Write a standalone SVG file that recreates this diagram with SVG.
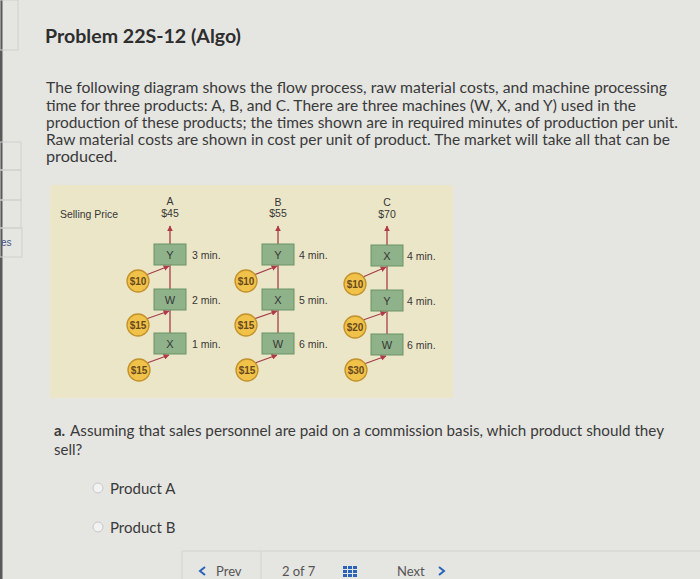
<svg xmlns="http://www.w3.org/2000/svg" width="700" height="579" viewBox="0 0 700 579">
<defs>
<style>
.bg{fill:#e5e5e2}
.body{font-family:"Lato","Liberation Sans",sans-serif;font-size:15px;fill:#3a3a3a}
.title{font-family:"Lato","Liberation Sans",sans-serif;font-size:19px;font-weight:bold;fill:#2e2e2e}
.dg{font-family:"Liberation Sans","DejaVu Sans",sans-serif;fill:#363636}
.lbl{font-size:10.5px;text-anchor:middle}
.tm{font-size:10.5px}
.box{fill:#8fb28a;stroke:#6a9366;stroke-width:1}
.boxt{font-size:11px;text-anchor:middle}
.coin{fill:#f0c24a;stroke:#c2922c;stroke-width:1.3}
.coint{font-size:10px;font-weight:bold;text-anchor:middle;fill:#6a4a1c}
.ln{stroke:#a3404d;stroke-width:1.3;fill:none}
.side{fill:none;stroke:#cfcfcd;stroke-width:1}
.nav{font-family:"Lato","Liberation Sans",sans-serif;font-size:13px;fill:#555}
.blue{fill:none;stroke:#2a63b8;stroke-width:2}
</style>
<marker id="ah" viewBox="0 0 10 10" refX="9" refY="5" markerWidth="6" markerHeight="6" orient="auto" markerUnits="userSpaceOnUse">
<path d="M0,0 L10,5 L0,10 z" fill="#b03848"/>
</marker>
</defs>

<rect class="bg" x="0" y="0" width="700" height="579"/>
<rect x="0" y="0" width="2.5" height="579" fill="#5a5a5a"/>

<!-- sidebar -->
<g id="sidebar">
<rect class="side" x="0" y="0" width="18" height="50"/>
<rect class="side" x="0" y="142" width="21" height="28"/>
<rect class="side" x="0" y="170" width="21" height="30"/>
<rect class="side" x="0" y="200" width="21" height="28"/>
<rect class="side" x="0" y="228" width="22" height="29"/>
<text x="1" y="246" font-family="Liberation Sans,sans-serif" font-size="10" fill="#4a5a85">es</text>
</g>

<!-- header text -->
<text class="title" x="45" y="43" textLength="196" lengthAdjust="spacingAndGlyphs">Problem 22S-12 (Algo)</text>
<g class="body">
<text x="46" y="93" textLength="621" lengthAdjust="spacingAndGlyphs">The following diagram shows the flow process, raw material costs, and machine processing</text>
<text x="46" y="111" textLength="590" lengthAdjust="spacingAndGlyphs">time for three products: A, B, and C. There are three machines (W, X, and Y) used in the</text>
<text x="46" y="128" textLength="632" lengthAdjust="spacingAndGlyphs">production of these products; the times shown are in required minutes of production per unit.</text>
<text x="46" y="145" textLength="624" lengthAdjust="spacingAndGlyphs">Raw material costs are shown in cost per unit of product. The market will take all that can be</text>
<text x="46" y="162" textLength="71" lengthAdjust="spacingAndGlyphs">produced.</text>
</g>

<!-- diagram panel -->
<rect x="50" y="185" width="403" height="213" fill="#ece6c8"/>
<text class="dg" x="60" y="218" font-size="11" textLength="58" lengthAdjust="spacingAndGlyphs">Selling Price</text>

<!-- connectors -->
<g id="connectors">
<line class="ln" x1="170" y1="244" x2="170" y2="226" marker-end="url(#ah)"/>
<line class="ln" x1="170" y1="289" x2="170" y2="265"/>
<line class="ln" x1="170" y1="333" x2="170" y2="310"/>
<line class="ln" x1="146" y1="275" x2="169" y2="266" marker-end="url(#ah)"/>
<line class="ln" x1="146" y1="319" x2="169" y2="311" marker-end="url(#ah)"/>
<line class="ln" x1="147" y1="363" x2="169" y2="355" marker-end="url(#ah)"/>

<line class="ln" x1="278" y1="244" x2="278" y2="226" marker-end="url(#ah)"/>
<line class="ln" x1="278" y1="289" x2="278" y2="265"/>
<line class="ln" x1="278" y1="333" x2="278" y2="310"/>
<line class="ln" x1="254" y1="275" x2="277" y2="266" marker-end="url(#ah)"/>
<line class="ln" x1="254" y1="319" x2="277" y2="311" marker-end="url(#ah)"/>
<line class="ln" x1="255" y1="363" x2="277" y2="355" marker-end="url(#ah)"/>

<line class="ln" x1="387" y1="245" x2="387" y2="226" marker-end="url(#ah)"/>
<line class="ln" x1="387" y1="290" x2="387" y2="266"/>
<line class="ln" x1="387" y1="334" x2="387" y2="311"/>
<line class="ln" x1="363" y1="277" x2="386" y2="267" marker-end="url(#ah)"/>
<line class="ln" x1="363" y1="320" x2="386" y2="312" marker-end="url(#ah)"/>
<line class="ln" x1="364" y1="364" x2="386" y2="356" marker-end="url(#ah)"/>
</g>

<!-- Product A -->
<g id="productA" class="dg">
<text class="lbl" x="170" y="205">A</text>
<text class="lbl" x="170" y="217">$45</text>
</g>
<g id="A-Y"><rect class="box" x="154" y="244" width="32" height="21"/><text class="dg boxt" x="170" y="258.5">Y</text><text class="dg tm" x="192" y="258.5">3 min.</text></g>
<g id="A-W"><rect class="box" x="154" y="289" width="32" height="21"/><text class="dg boxt" x="170" y="303.5">W</text><text class="dg tm" x="192" y="303.5">2 min.</text></g>
<g id="A-X"><rect class="box" x="154" y="333" width="32" height="21"/><text class="dg boxt" x="170" y="347.5">X</text><text class="dg tm" x="192" y="347.5">1 min.</text></g>
<g id="A-m1"><circle class="coin" cx="138" cy="281" r="11"/><text class="dg coint" x="138" y="284.5">$10</text></g>
<g id="A-m2"><circle class="coin" cx="138" cy="325" r="11"/><text class="dg coint" x="138" y="328.5">$15</text></g>
<g id="A-m3"><circle class="coin" cx="139" cy="370" r="11"/><text class="dg coint" x="139" y="373.5">$15</text></g>

<!-- Product B -->
<g id="productB" class="dg">
<text class="lbl" x="278" y="206">B</text>
<text class="lbl" x="278" y="217">$55</text>
</g>
<g id="B-Y"><rect class="box" x="262" y="244" width="32" height="21"/><text class="dg boxt" x="278" y="258.5">Y</text><text class="dg tm" x="299" y="258.5">4 min.</text></g>
<g id="B-X"><rect class="box" x="262" y="289" width="32" height="21"/><text class="dg boxt" x="278" y="303.5">X</text><text class="dg tm" x="299" y="303.5">5 min.</text></g>
<g id="B-W"><rect class="box" x="262" y="333" width="32" height="21"/><text class="dg boxt" x="278" y="347.5">W</text><text class="dg tm" x="299" y="347.5">6 min.</text></g>
<g id="B-m1"><circle class="coin" cx="246" cy="281" r="11"/><text class="dg coint" x="246" y="284.5">$10</text></g>
<g id="B-m2"><circle class="coin" cx="246" cy="325" r="11"/><text class="dg coint" x="246" y="328.5">$15</text></g>
<g id="B-m3"><circle class="coin" cx="247" cy="370" r="11"/><text class="dg coint" x="247" y="373.5">$15</text></g>

<!-- Product C -->
<g id="productC" class="dg">
<text class="lbl" x="387" y="206">C</text>
<text class="lbl" x="387" y="218">$70</text>
</g>
<g id="C-X"><rect class="box" x="371" y="245" width="32" height="21"/><text class="dg boxt" x="387" y="259.5">X</text><text class="dg tm" x="407" y="259.5">4 min.</text></g>
<g id="C-Y"><rect class="box" x="371" y="290" width="32" height="21"/><text class="dg boxt" x="387" y="304.5">Y</text><text class="dg tm" x="407" y="304.5">4 min.</text></g>
<g id="C-W"><rect class="box" x="371" y="334" width="32" height="21"/><text class="dg boxt" x="387" y="348.5">W</text><text class="dg tm" x="407" y="348.5">6 min.</text></g>
<g id="C-m1"><circle class="coin" cx="355" cy="284" r="11"/><text class="dg coint" x="355" y="287.5">$10</text></g>
<g id="C-m2"><circle class="coin" cx="355" cy="327" r="11"/><text class="dg coint" x="355" y="330.5">$20</text></g>
<g id="C-m3"><circle class="coin" cx="356" cy="370" r="11"/><text class="dg coint" x="356" y="373.5">$30</text></g>

<!-- question -->
<g class="body">
<text x="54" y="436" font-weight="bold">a.</text>
<text x="70" y="436" textLength="594" lengthAdjust="spacingAndGlyphs">Assuming that sales personnel are paid on a commission basis, which product should they</text>
<text x="54" y="455">sell?</text>
</g>
<g id="optA">
<circle cx="98" cy="488" r="5" fill="#f2f2f2" stroke="#c8c8c8" stroke-width="1"/>
<text class="body" x="110" y="494">Product A</text>
</g>
<g id="optB">
<circle cx="98" cy="527" r="5" fill="#f2f2f2" stroke="#c8c8c8" stroke-width="1"/>
<text class="body" x="110" y="533">Product B</text>
</g>

<!-- bottom nav -->
<g id="nav">
<line x1="182" y1="551" x2="700" y2="551" stroke="#d2d2d0" stroke-width="1"/>
<line x1="182" y1="551" x2="182" y2="579" stroke="#d2d2d0" stroke-width="1"/>
<line x1="261" y1="551" x2="261" y2="579" stroke="#d2d2d0" stroke-width="1"/>
<polyline class="blue" points="205,567 200,571 205,575"/>
<text class="nav" x="216" y="576">Prev</text>
<text class="nav" x="282" y="576">2 of 7</text>
<g fill="#2a63b8">
<rect x="343" y="566" width="4" height="3"/><rect x="348" y="566" width="4" height="3"/><rect x="353" y="566" width="4" height="3"/>
<rect x="343" y="570" width="4" height="3"/><rect x="348" y="570" width="4" height="3"/><rect x="353" y="570" width="4" height="3"/>
<rect x="343" y="574" width="4" height="3"/><rect x="348" y="574" width="4" height="3"/><rect x="353" y="574" width="4" height="3"/>
</g>
<text class="nav" x="397" y="576">Next</text>
<polyline class="blue" points="439,567 444,571 439,575"/>
</g>
</svg>
